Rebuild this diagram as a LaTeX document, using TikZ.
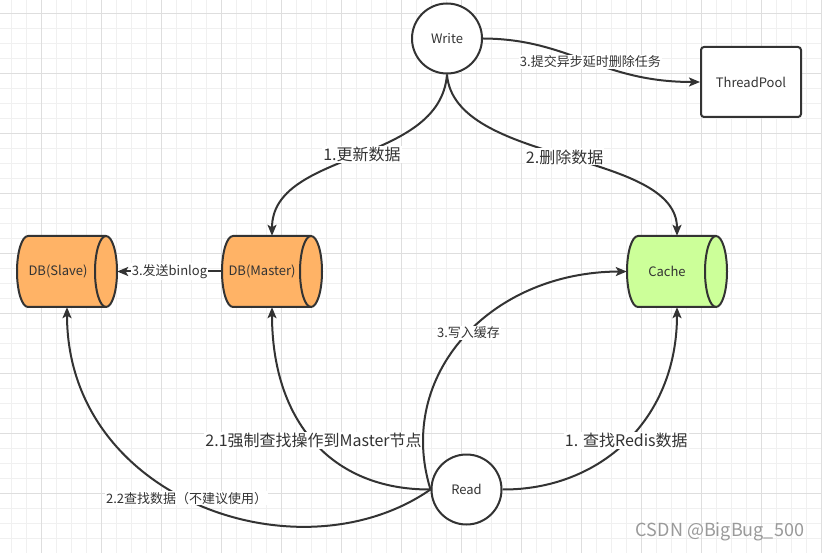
\documentclass[tikz,border=0pt]{standalone}
\usepackage{fontspec}
\setmainfont{Noto Sans CJK SC}
\usetikzlibrary{arrows.meta}
\definecolor{ink}{HTML}{333333}
\definecolor{dbfill}{HTML}{FFB366}
\definecolor{cachefill}{HTML}{CCFF99}
\definecolor{gridminor}{HTML}{F0F0F0}
\definecolor{gridmajor}{HTML}{DEDEDE}
\definecolor{wmark}{HTML}{9A9A9A}
\begin{document}
\begin{tikzpicture}[x=1pt,y=-1pt,
  gmin/.style={draw=gridminor,line width=1pt},
  gmaj/.style={draw=gridmajor,line width=1pt},
  conn/.style={draw=ink,line width=2pt,-{Stealth[length=11pt,width=9pt,inset=2.5pt]}},
  circ/.style={circle,draw=ink,line width=2pt,minimum size=70pt,inner sep=0pt,fill=white,text=ink,font=\fontsize{13}{15}\selectfont},
  boxnode/.style={rectangle,rounded corners=3pt,draw=ink,line width=2pt,minimum width=100pt,minimum height=70pt,fill=white,text=ink,font=\fontsize{13}{15}\selectfont},
  cylarea/.style={rectangle,draw=none,minimum width=100pt,minimum height=71pt,inner sep=0pt},
  cyltext/.style={text=ink,inner sep=0pt,font=\fontsize{13}{15}\selectfont},
  cylbody/.style={draw=ink,line width=2pt,line join=round},
  lblbig/.style={fill=white,text=ink,inner sep=1pt,font=\fontsize{16}{18}\selectfont},
  lblsmall/.style={fill=white,text=ink,inner sep=1pt,font=\fontsize{13}{15}\selectfont}
]
\useasboundingbox (0,0) rectangle (822,553);
\fill[white] (0,0) rectangle (822,553);
% grid
\foreach \k in {0,...,54}{\draw[gmin] ({11.7+15*\k},0) -- ({11.7+15*\k},553);}
\foreach \k in {0,...,36}{\draw[gmin] (0,{13.3+15*\k}) -- (822,{13.3+15*\k});}
\foreach \k in {0,...,13}{\draw[gmaj] ({41.7+60*\k},0) -- ({41.7+60*\k},553);}
\foreach \k in {0,...,9}{\draw[gmaj] (0,{13.3+60*\k}) -- (822,{13.3+60*\k});}

% cylinders (shape outlines)
\draw[cylbody,fill=dbfill] (28,236) -- (106,236) arc[start angle=90,end angle=-90,x radius=11pt,y radius=35.5pt] -- (28,307) arc[start angle=270,end angle=90,x radius=11pt,y radius=35.5pt] -- cycle;
\draw[cylbody] (106,236) arc[start angle=90,end angle=270,x radius=11pt,y radius=35.5pt];
\draw[cylbody,fill=dbfill] (233,236) -- (311,236) arc[start angle=90,end angle=-90,x radius=11pt,y radius=35.5pt] -- (233,307) arc[start angle=270,end angle=90,x radius=11pt,y radius=35.5pt] -- cycle;
\draw[cylbody] (311,236) arc[start angle=90,end angle=270,x radius=11pt,y radius=35.5pt];
\draw[cylbody,fill=cachefill] (638,236) -- (716,236) arc[start angle=90,end angle=-90,x radius=11pt,y radius=35.5pt] -- (638,307) arc[start angle=270,end angle=90,x radius=11pt,y radius=35.5pt] -- cycle;
\draw[cylbody] (716,236) arc[start angle=90,end angle=270,x radius=11pt,y radius=35.5pt];

% nodes
\node[cylarea] (slave) at (67,271.5) {};
\node[cylarea] (master) at (272,271.5) {};
\node[cylarea] (cache) at (677,271.5) {};
\node[cyltext] (slavetxt) at (58,271.5) {DB(Slave)};
\node[cyltext] (mastertxt) at (262,271.5) {DB(Master)};
\node[cyltext] (cachetxt) at (667,271.5) {Cache};
\node[circ] (write) at (447,38.5) {Write};
\node[circ] (read) at (466.5,489.5) {Read};
\node[boxnode] (pool) at (751,82) {ThreadPool};

% connectors
\draw[conn] (write.east) .. controls (570,39) and (600,82) .. (pool.west)
  node[lblsmall,pos=0.52] {3.提交异步延时删除任务};
\draw[conn] (write.south) .. controls (440,165) and (272,150) .. (master.north)
  node[lblbig,pos=0.48] {1.更新数据};
\draw[conn] (write.south) .. controls (454,165) and (677,150) .. (cache.north)
  node[lblbig,pos=0.5] {2.删除数据};
\draw[conn] (master.west) -- (slave.east)
  node[lblsmall,pos=0.5] {3.发送binlog};
\draw[conn] (read.west) .. controls (330,490) and (272,420) .. (master.south)
  node[lblbig,pos=0.5] {2.1强制查找操作到Master节点};
\draw[conn] (read.west) .. controls (300,580) and (67,500) .. (slave.south)
  node[lblsmall,pos=0.53] {2.2查找数据（不建议使用）};
\draw[conn] (read.east) .. controls (600,490) and (677,420) .. (cache.south)
  node[lblbig,pos=0.5] {1. 查找Redis数据};
\draw[conn] (read.west) .. controls (395,375) and (490,272) .. (cache.west)
  node[lblsmall,pos=0.52] {3.写入缓存};

% watermark
\node[text=wmark,inner sep=0pt,font=\fontsize{18}{20}\selectfont] (wm) at (720,532) {CSDN @BigBug\_500};
\end{tikzpicture}
\end{document}
